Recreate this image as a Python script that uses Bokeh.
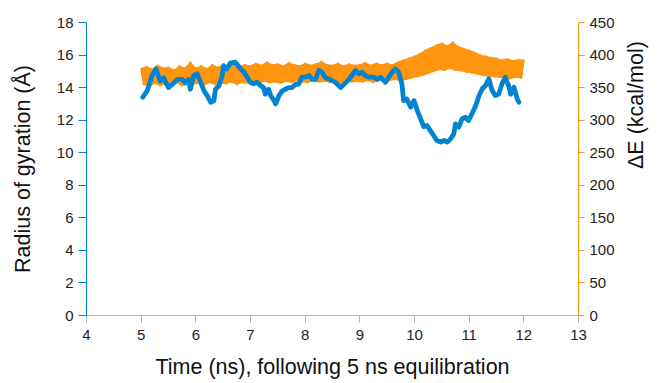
import math
from bokeh.plotting import figure
from bokeh.models import Range1d, LinearAxis, FixedTicker
from bokeh.embed import file_html
from bokeh.resources import INLINE

# ---- data ----
x_ticks = [4, 5, 6, 7, 8, 9, 10, 11, 12, 13]
rg_ticks = [0, 2, 4, 6, 8, 10, 12, 14, 16, 18]
e_ticks = [0, 50, 100, 150, 200, 250, 300, 350, 400, 450]

rg_time = [5.03, 5.11, 5.20, 5.27, 5.35, 5.41, 5.50, 5.60, 5.66, 5.75, 5.81, 5.87, 5.90, 5.96,
           6.02, 6.08, 6.15, 6.21, 6.27, 6.33, 6.36, 6.42, 6.48, 6.51, 6.57, 6.63, 6.72, 6.82,
           6.88, 6.94, 7.00, 7.06, 7.12, 7.18, 7.24, 7.27, 7.33, 7.37, 7.43, 7.46, 7.52, 7.58,
           7.64, 7.70, 7.76, 7.82, 7.88, 7.94, 8.00, 8.07, 8.13, 8.19, 8.25, 8.31, 8.37, 8.46,
           8.55, 8.65, 8.71, 8.80, 8.92, 8.98, 9.04, 9.10, 9.16, 9.26, 9.32, 9.38, 9.47, 9.53,
           9.59, 9.65, 9.71, 9.77, 9.80, 9.86, 9.93, 9.99, 10.05, 10.11, 10.17, 10.23, 10.29,
           10.35, 10.41, 10.48, 10.54, 10.60, 10.66, 10.72, 10.75, 10.81, 10.87, 10.93, 10.99,
           11.05, 11.12, 11.18, 11.24, 11.30, 11.36, 11.42, 11.48, 11.54, 11.60, 11.66, 11.72,
           11.76, 11.82, 11.88, 11.91]
rg_values = [13.41, 13.8, 14.74, 15.15, 14.4, 14.6, 14.0, 14.3, 14.5, 14.5, 14.3, 14.5, 13.9, 14.74,
             14.85, 14.4, 13.8, 13.5, 13.1, 13.2, 13.9, 14.1, 14.7, 15.35, 15.15, 15.5, 15.56, 15.15,
             14.95, 14.64, 14.33, 14.23, 14.33, 14.13, 14.0, 13.6, 13.9, 13.5, 13.2, 13.0, 13.5, 13.8,
             13.9, 14.0, 14.0, 14.2, 14.2, 14.64, 14.64, 14.74, 14.5, 14.5, 15.05, 14.95, 14.6, 14.5,
             14.33, 14.0, 14.2, 14.5, 15.05, 14.85, 14.95, 14.74, 14.64, 14.64, 14.5, 14.64, 14.33, 14.64,
             14.95, 15.15, 14.95, 14.23, 13.2, 13.3, 12.8, 13.2, 12.6, 12.1, 11.6, 11.67, 11.36,
             11.06, 10.75, 10.65, 10.75, 10.65, 10.85, 11.16, 11.77, 11.57, 12.08, 12.18, 11.98,
             12.39, 12.9, 13.5, 13.93, 14.13, 14.54, 13.82, 13.51, 13.6, 14.23, 14.64, 14.13,
             13.6, 14.02, 13.3, 13.1]

# noisy energy trace: alternating high / low samples
e_time = [5.00, 5.05, 5.10, 5.15, 5.20, 5.25, 5.30, 5.35, 5.40, 5.45,
          5.50, 5.55, 5.60, 5.65, 5.70, 5.75, 5.80, 5.85, 5.90, 5.95,
          6.00, 6.05, 6.10, 6.15, 6.20, 6.25, 6.30, 6.35, 6.40, 6.45,
          6.50, 6.55, 6.60, 6.65, 6.70, 6.75, 6.80, 6.85, 6.90, 6.95,
          7.00, 7.05, 7.10, 7.15, 7.20, 7.25, 7.30, 7.35, 7.40, 7.45,
          7.50, 7.55, 7.60, 7.65, 7.70, 7.75, 7.80, 7.85, 7.90, 7.95,
          8.00, 8.05, 8.10, 8.15, 8.20, 8.25, 8.30, 8.35, 8.40, 8.45,
          8.50, 8.55, 8.60, 8.65, 8.70, 8.75, 8.80, 8.85, 8.90, 8.95,
          9.00, 9.05, 9.10, 9.15, 9.20, 9.25, 9.30, 9.35, 9.40, 9.45,
          9.50, 9.55, 9.60, 9.65, 9.70, 9.75, 9.80, 9.85, 9.90, 9.95,
          10.00, 10.05, 10.10, 10.15, 10.20, 10.25, 10.30, 10.35, 10.40, 10.45,
          10.50, 10.55, 10.60, 10.65, 10.70, 10.75, 10.80, 10.85, 10.90, 10.95,
          11.00, 11.05, 11.10, 11.15, 11.20, 11.25, 11.30, 11.35, 11.40, 11.45,
          11.50, 11.55, 11.60, 11.65, 11.70, 11.75, 11.80, 11.85, 11.90, 11.95,
          12.00]
e_values = [380, 354, 383, 351, 379, 356, 385, 352, 381, 355,
            382, 353, 378, 357, 384, 352, 381, 355, 390, 354,
            381, 356, 384, 353, 380, 357, 386, 354, 382, 356,
            385, 355, 381, 358, 387, 354, 383, 357, 386, 356,
            384, 358, 388, 355, 385, 359, 390, 357, 386, 358,
            387, 356, 384, 359, 389, 357, 386, 360, 384, 358,
            388, 357, 385, 360, 387, 358, 391, 359, 386, 357,
            385, 359, 388, 356, 384, 360, 387, 358, 385, 359,
            386, 358, 389, 360, 385, 357, 388, 361, 386, 359,
            388, 360, 386, 362, 390, 359, 393, 362, 396, 364,
            399, 366, 403, 368, 408, 371, 412, 374, 416, 377,
            419, 376, 415, 379, 421, 376, 414, 375, 411, 373,
            408, 372, 405, 370, 401, 368, 399, 367, 397, 366,
            396, 365, 393, 364, 395, 363, 392, 365, 394, 364,
            393]

BLUE = "#0084d1"
ORANGE = "#ff950e"
GRAY = "#b3b3b3"
FONT = "Liberation Sans"

p = figure(width=664, height=383, x_range=Range1d(4, 13), y_range=Range1d(0, 18),
           output_backend="svg", toolbar_location=None,
           min_border_left=86, min_border_right=86, min_border_top=22, min_border_bottom=68,
           x_axis_location=None, y_axis_location=None)
p.extra_y_ranges = {"E": Range1d(0, 450)}
p.outline_line_color = None
p.xgrid.visible = False
p.ygrid.visible = False
p.background_fill_color = "white"


def style(ax, color, ticks, tick_out, standoff, label, label_standoff):
    ax.ticker = FixedTicker(ticks=ticks)
    ax.axis_line_color = color
    ax.axis_line_width = 1
    ax.major_tick_line_color = color
    ax.major_tick_in = 0
    ax.major_tick_out = tick_out
    ax.minor_tick_line_color = None
    ax.major_label_text_font = FONT
    ax.major_label_text_font_size = "15px"
    ax.major_label_text_color = "#222222"
    ax.major_label_standoff = standoff
    ax.axis_label = label
    ax.axis_label_text_font = FONT
    ax.axis_label_text_font_size = "21.5px"
    ax.axis_label_text_font_style = "normal"
    ax.axis_label_text_color = "#111111"
    ax.axis_label_standoff = label_standoff


xax = LinearAxis()
style(xax, GRAY, x_ticks, 7, 7, "Time (ns), following 5 ns equilibration", 12)
p.add_layout(xax, "below")

lax = LinearAxis()
style(lax, BLUE, rg_ticks, 8, 5, "Radius of gyration (Å)", 19)
p.add_layout(lax, "left")

rax = LinearAxis(y_range_name="E")
style(rax, ORANGE, e_ticks, 6, 5, "ΔE (kcal/mol)", 18)
try:
    rax.axis_label_orientation = math.pi / 2
except Exception:
    pass
p.add_layout(rax, "right")

# fill between the high and low samples, then the trace itself for the spiky edges
hi_t = e_time[0::2]
hi_v = e_values[0::2]
lo_t = e_time[1::2]
lo_v = e_values[1::2]
p.patch(hi_t + lo_t[::-1], hi_v + lo_v[::-1], y_range_name="E",
        fill_color=ORANGE, line_color=None)
p.line(e_time, e_values, y_range_name="E", line_color=ORANGE, line_width=2.0)
p.line(rg_time, rg_values, line_color=BLUE, line_width=4.8, line_join="round", line_cap="round")

open("out.html", "w").write(file_html(p, INLINE))
